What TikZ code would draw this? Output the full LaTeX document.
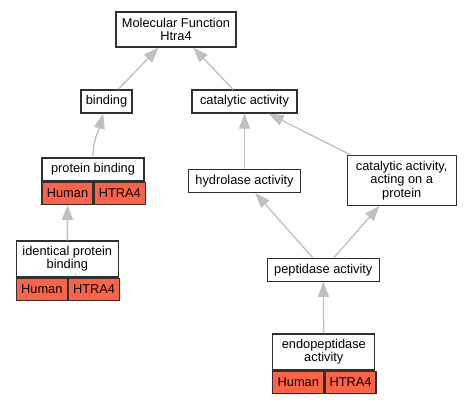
\documentclass[tikz,border=0pt]{standalone}
\usepackage{fontspec}
\setmainfont{Liberation Sans}
\usepackage{tikz}
\usetikzlibrary{positioning, arrows.meta}
\definecolor{tomato}{HTML}{FF6347}
\definecolor{edgegray}{HTML}{C0C0C0}
\definecolor{framegray}{HTML}{303030}
\tikzstyle{term}  = [rectangle, minimum height=23pt, inner sep=0pt, align=center, draw=framegray, line width=1.3pt, fill=white]
\tikzstyle{title} = [term, minimum width=102pt]
\tikzstyle{cell}  = [rectangle, minimum width=51pt, minimum height=22pt, inner sep=0pt, draw=framegray, line width=1.3pt, fill=tomato]
\tikzstyle{isa}   = [edgegray, line width=1.3pt, -{Triangle[length=15pt, width=11pt]}]

\begin{document}
\begin{tikzpicture}[x=1pt, y=-1pt, font=\fontsize{12.8}{13.3}\selectfont]

    \useasboundingbox (0,0) rectangle (471,403);

    \node (mf)      [term, minimum width=120pt, minimum height=35pt] at (176,29.5)  {Molecular Function\\Htra4};
    \node (binding) [term, minimum width=51pt]  at (106.5,101.5) {binding};
    \node (catal)   [term, minimum width=105pt] at (244.5,101.5) {catalytic activity};
    \node (hydro)   [term, minimum width=112pt] at (244.5,180.8) {hydrolase activity};
    \node (catprot) [term, minimum width=109pt, minimum height=49.5pt] at (401.7,180.5) {catalytic activity,\\acting on a\\protein};
    \node (pept)    [term, minimum width=112pt] at (323.3,269.7) {peptidase activity};

    \node (pbind)   [title] at (93,169.5) {protein binding};
    \node (pbindh)  [cell, below right=0pt and 0pt of pbind.south west] {Human};
    \node (pbindg)  [cell, right=0pt of pbindh] {HTRA4};

    \node (ident)   [title, minimum height=36pt] at (67.3,259) {identical protein\\binding};
    \node (identh)  [cell, below right=0pt and 0pt of ident.south west] {Human};
    \node (identg)  [cell, right=0pt of identh] {HTRA4};

    \node (endo)    [title, minimum height=36pt] at (323.8,352) {endopeptidase\\activity};
    \node (endoh)   [cell, below right=0pt and 0pt of endo.south west] {Human};
    \node (endog)   [cell, right=0pt of endoh] {HTRA4};

    \draw [isa] (binding) -- (mf);
    \draw [isa] (catal) -- (mf);
    \draw [isa] (pbind.north) to[out=90, in=-105] (binding.-105);
    \draw [isa] (ident) -- (pbindh);
    \draw [isa] (hydro) -- (catal);
    \draw [isa] (catprot) -- (catal);
    \draw [isa] (pept) -- (hydro);
    \draw [isa] (pept) -- (catprot);
    \draw [isa] (endo) -- (pept);

\end{tikzpicture}
\end{document}
